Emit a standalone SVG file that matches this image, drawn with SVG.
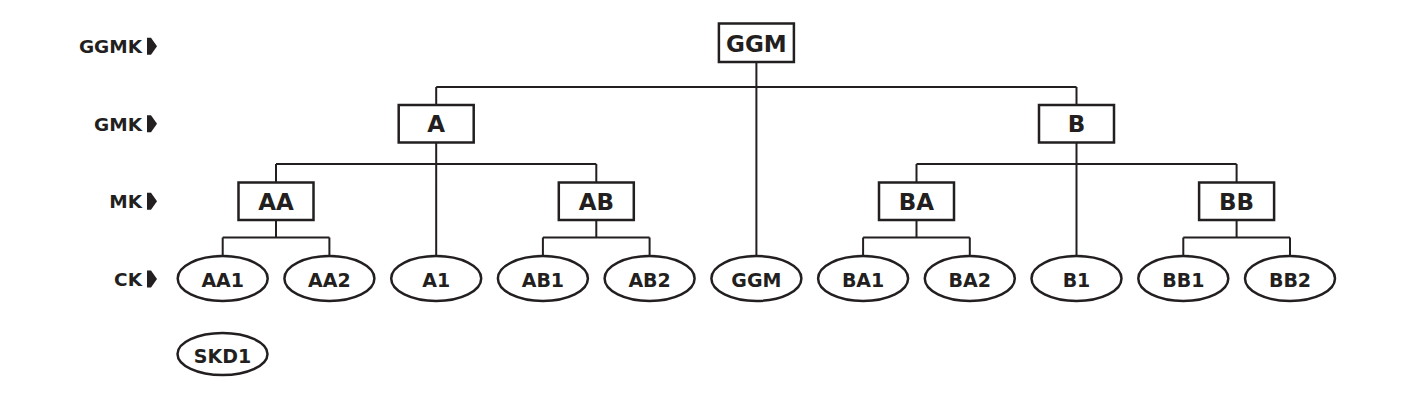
<svg xmlns="http://www.w3.org/2000/svg" width="1403" height="409" viewBox="0 0 1403 409">
<style>
.box{fill:#fff;stroke:#231f20;stroke-width:2.5}
.ell{fill:#fff;stroke:#231f20;stroke-width:2.5}
.con{fill:none;stroke:#231f20;stroke-width:2}
.t{font-family:"DejaVu Sans",sans-serif;font-weight:bold;fill:#231f20;text-anchor:middle}
.tb{font-size:23px}
.te{font-size:19px}
.lab{font-family:"DejaVu Sans",sans-serif;font-weight:bold;fill:#231f20;font-size:18.5px;text-anchor:end}
.arr{fill:#231f20}
</style>
<defs>
<path id="arrow" d="M0,-8.5 L4,-8.5 L10,0 L4,8.5 L0,8.5 Z"/>
</defs>
<g id="levels">
<text class="lab" x="142" y="53.3">GGMK</text><use href="#arrow" class="arr" x="147" y="46.2"/>
<text class="lab" x="142" y="130.7">GMK</text><use href="#arrow" class="arr" x="147" y="123.7"/>
<text class="lab" x="142" y="208.3">MK</text><use href="#arrow" class="arr" x="147" y="201.3"/>
<text class="lab" x="142" y="286">CK</text><use href="#arrow" class="arr" x="147" y="279"/>
</g>
<g id="connectors">
<path class="con" d="M756.4,62 V256 M436.2,87 H1076.5 M436.2,87 V105 M1076.5,87 V105"/>
<path class="con" d="M436.2,142.5 V256 M276,164 H596.3 M276,164 V182.5 M596.3,164 V182.5"/>
<path class="con" d="M1076.5,142.5 V256 M916.5,164 H1236.6 M916.5,164 V182.5 M1236.6,164 V182.5"/>
<path class="con" d="M276,220 V237.5 M222.7,237.5 H329.4 M222.7,237.5 V256 M329.4,237.5 V256"/>
<path class="con" d="M596.3,220 V237.5 M542.9,237.5 H649.6 M542.9,237.5 V256 M649.6,237.5 V256"/>
<path class="con" d="M916.5,220 V237.5 M863.1,237.5 H969.8 M863.1,237.5 V256 M969.8,237.5 V256"/>
<path class="con" d="M1236.6,220 V237.5 M1183.3,237.5 H1290 M1183.3,237.5 V256 M1290,237.5 V256"/>
</g>
<g id="node-GGM"><rect class="box" x="718.9" y="23.5" width="75" height="38.5"/><text class="t tb" x="756.4" y="51.5">GGM</text></g>
<g id="node-A"><rect class="box" x="398.7" y="105" width="75" height="37.5"/><text class="t tb" x="436.2" y="132">A</text></g>
<g id="node-B"><rect class="box" x="1039" y="105" width="75" height="37.5"/><text class="t tb" x="1076.5" y="132">B</text></g>
<g id="node-AA"><rect class="box" x="238.5" y="182.5" width="75" height="37.5"/><text class="t tb" x="276" y="209.5">AA</text></g>
<g id="node-AB"><rect class="box" x="558.8" y="182.5" width="75" height="37.5"/><text class="t tb" x="596.3" y="209.5">AB</text></g>
<g id="node-BA"><rect class="box" x="879" y="182.5" width="75" height="37.5"/><text class="t tb" x="916.5" y="209.5">BA</text></g>
<g id="node-BB"><rect class="box" x="1199.1" y="182.5" width="75" height="37.5"/><text class="t tb" x="1236.6" y="209.5">BB</text></g>
<g id="node-AA1"><ellipse class="ell" cx="222.7" cy="278.5" rx="45" ry="22.5"/><text class="t te" x="222.7" y="287.3">AA1</text></g>
<g id="node-AA2"><ellipse class="ell" cx="329.4" cy="278.5" rx="45" ry="22.5"/><text class="t te" x="329.4" y="287.3">AA2</text></g>
<g id="node-A1"><ellipse class="ell" cx="436.2" cy="278.5" rx="45" ry="22.5"/><text class="t te" x="436.2" y="287.3">A1</text></g>
<g id="node-AB1"><ellipse class="ell" cx="542.9" cy="278.5" rx="45" ry="22.5"/><text class="t te" x="542.9" y="287.3">AB1</text></g>
<g id="node-AB2"><ellipse class="ell" cx="649.6" cy="278.5" rx="45" ry="22.5"/><text class="t te" x="649.6" y="287.3">AB2</text></g>
<g id="node-GGM-C"><ellipse class="ell" cx="756.4" cy="278.5" rx="45" ry="22.5"/><text class="t te" x="756.4" y="287.3">GGM</text></g>
<g id="node-BA1"><ellipse class="ell" cx="863.1" cy="278.5" rx="45" ry="22.5"/><text class="t te" x="863.1" y="287.3">BA1</text></g>
<g id="node-BA2"><ellipse class="ell" cx="969.8" cy="278.5" rx="45" ry="22.5"/><text class="t te" x="969.8" y="287.3">BA2</text></g>
<g id="node-B1"><ellipse class="ell" cx="1076.5" cy="278.5" rx="45" ry="22.5"/><text class="t te" x="1076.5" y="287.3">B1</text></g>
<g id="node-BB1"><ellipse class="ell" cx="1183.3" cy="278.5" rx="45" ry="22.5"/><text class="t te" x="1183.3" y="287.3">BB1</text></g>
<g id="node-BB2"><ellipse class="ell" cx="1290" cy="278.5" rx="45" ry="22.5"/><text class="t te" x="1290" y="287.3">BB2</text></g>
<g id="node-SKD1"><ellipse class="ell" cx="222.5" cy="354" rx="45" ry="21"/><text class="t te" x="222.5" y="362.5">SKD1</text></g>
</svg>
